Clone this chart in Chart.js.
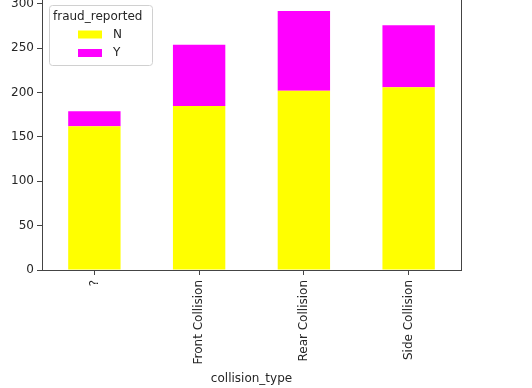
<!DOCTYPE html>
<html><head><meta charset="utf-8">
<script src="https://cdn.jsdelivr.net/npm/chart.js@4"></script>
<style>
html,body{margin:0;padding:0;overflow:hidden;background:#fff;width:532px;height:388px}
#wrap{position:absolute;left:0;top:-3px;width:532px;height:391px}
</style></head><body>
<div id="wrap"><canvas id="c" width="532" height="391"></canvas></div>
<script>
const categories = ['?', 'Front Collision', 'Rear Collision', 'Side Collision'];
const seriesN = [162, 185, 202, 206];
const seriesY = [17, 69, 90, 70];
const yTicks = [0, 50, 100, 150, 200, 250, 300];
const legendTitle = 'fraud_reported';
const xTitle = 'collision_type';

const FONT = 'DejaVu Sans';
const FS = 12;
const OFF = 3; // canvas is shifted up by 3px

const rightSpine = {
  id: 'rightSpine',
  afterDraw(chart) {
    const {ctx, chartArea} = chart;
    ctx.save();
    ctx.strokeStyle = '#444';
    ctx.lineWidth = 1;
    ctx.beginPath();
    ctx.moveTo(Math.round(chartArea.right) + 0.5, 0);
    ctx.lineTo(Math.round(chartArea.right) + 0.5, chartArea.bottom);
    ctx.stroke();
    ctx.restore();
  }
};

const boxLegend = {
  id: 'boxLegend',
  afterDraw(chart) {
    const ctx = chart.ctx;
    const x0 = 49, y0 = 5 + OFF, w = 103, h = 60, r = 3;
    ctx.save();
    ctx.fillStyle = 'rgba(255,255,255,0.8)';
    ctx.strokeStyle = '#d0d0d0';
    ctx.lineWidth = 1;
    ctx.beginPath();
    ctx.roundRect(x0 + 0.5, y0 + 0.5, w, h, r);
    ctx.fill();
    ctx.stroke();
    ctx.fillStyle = '#262626';
    ctx.font = FS + 'px "' + FONT + '"';
    ctx.textBaseline = 'middle';
    ctx.textAlign = 'left';
    ctx.fillText(legendTitle, 53, 17 + OFF);
    chart.data.datasets.forEach((ds, i) => {
      const cy = 34.5 + i * 18.5 + OFF;
      ctx.fillStyle = ds.backgroundColor;
      ctx.fillRect(78, cy - 4, 24, 8);
      ctx.fillStyle = '#262626';
      ctx.fillText(ds.label, 113, cy);
    });
    ctx.restore();
  }
};

new Chart(document.getElementById('c'), {
  type: 'bar',
  data: {
    labels: categories,
    datasets: [
      {label: 'N', data: seriesN, backgroundColor: '#ffff00', borderWidth: 0, barPercentage: 0.5, categoryPercentage: 1.0},
      {label: 'Y', data: seriesY, backgroundColor: '#ff00ff', borderWidth: 0, barPercentage: 0.5, categoryPercentage: 1.0}
    ]
  },
  plugins: [rightSpine, boxLegend],
  options: {
    responsive: false,
    animation: false,
    devicePixelRatio: 1,
    layout: {padding: {top: 1, right: 71, left: 0, bottom: 0}},
    plugins: {legend: {display: false}, tooltip: {enabled: false}},
    scales: {
      x: {
        stacked: true,
        grid: {display: true, drawOnChartArea: false, offset: false, tickLength: 5, color: '#444'},
        border: {color: '#444'},
        ticks: {minRotation: 90, maxRotation: 90, color: '#262626', padding: 5, font: {family: FONT, size: FS}},
        title: {display: true, text: xTitle, color: '#262626', font: {family: FONT, size: FS}, padding: {top: 0, bottom: 2}},
        afterFit(s) { s.height = 118; s.paddingLeft = 0; s.paddingRight = 0; }
      },
      y: {
        stacked: true,
        min: 0,
        max: 306.6,
        grid: {display: true, drawOnChartArea: false, tickLength: 5, color: '#444'},
        border: {color: '#444'},
        ticks: {color: '#262626', padding: 3, font: {family: FONT, size: FS}},
        afterBuildTicks(s) { s.ticks = yTicks.map(v => ({value: v})); },
        afterFit(s) { s.width = 42; s.paddingTop = 0; s.paddingBottom = 0; }
      }
    }
  }
});
</script>
</body></html>
